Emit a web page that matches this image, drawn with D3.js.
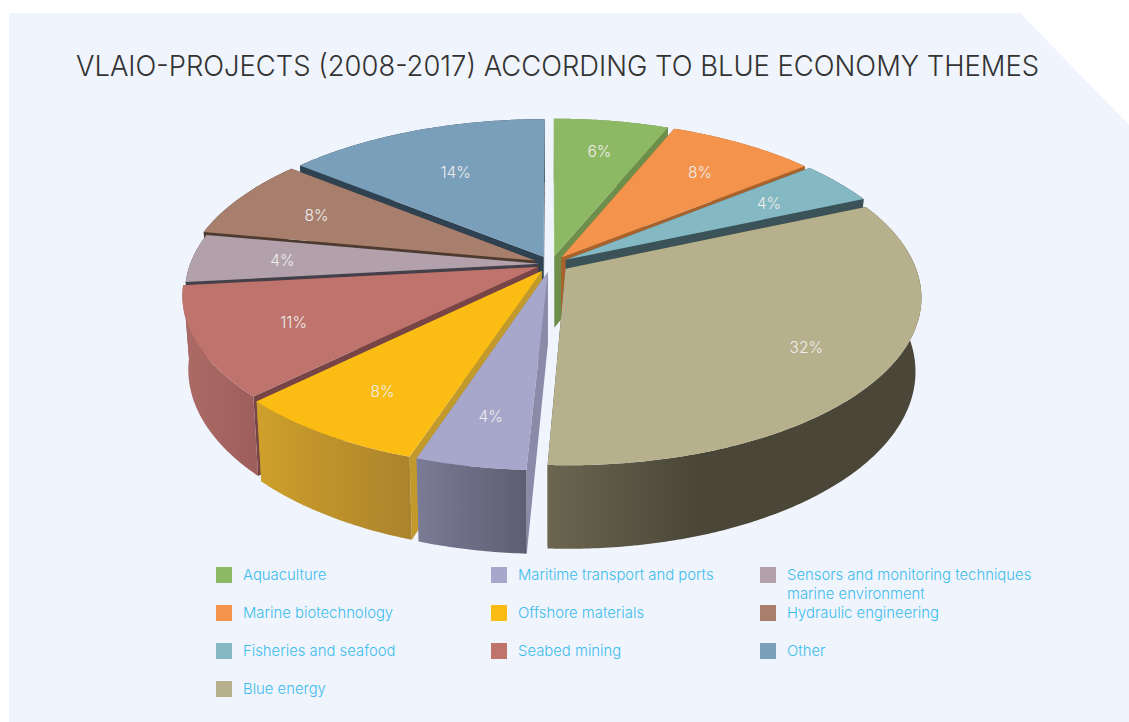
<!DOCTYPE html>
<html>
<head>
<meta charset="utf-8">
<title>VLAIO-projects</title>
<script src="https://cdnjs.cloudflare.com/ajax/libs/d3/7.8.5/d3.min.js"></script>
<style>
  html, body { margin: 0; padding: 0; background: #fff; }
  svg { display: block; }
  text { font-family: Inter, "Liberation Sans", Arial, sans-serif; font-weight: 300; }
</style>
</head>
<body>
<svg id="chart" width="1129" height="722"></svg>
<script>
// chart data
var titleText = 'VLAIO-PROJECTS (2008-2017) ACCORDING TO BLUE ECONOMY THEMES';
var themes = ['Aquaculture', 'Marine biotechnology', 'Fisheries and seafood', 'Blue energy',
    'Maritime transport and ports', 'Offshore materials', 'Seabed mining',
    'Sensors and monitoring techniques marine environment', 'Hydraulic engineering', 'Other'];
var shares = [6.2, 8.0, 4.25, 32.4, 4.28, 7.6, 10.6, 4.7, 7.9, 14.2];
var shareLabels = ['6%', '8%', '4%', '32%', '4%', '8%', '11%', '4%', '8%', '14%'];

// colours, same order as the themes
var topColors = ['#8eb964', '#f4934c', '#84b8c2', '#b6b18c', '#a7a6cb', '#fbbc13', '#bf736d', '#b2a1ab', '#a87f6d', '#7a9fbb'];
var sideColors = ['#6e8f4c', '#a8622b', '#3a5258', '#4a4638', '#8b8aa8', '#c29a2b', '#774546', '#44404a', '#4f3a30', '#2f4251'];
var wallLight = ['#6e8f4c', '#a8622b', '#3a5258', '#6b6650', '#7a7b96', '#cfa02b', '#ad6b66', '#44404a', '#4f3a30', '#2f4251'];
var wallDark = ['#6e8f4c', '#a8622b', '#3a5258', '#4a4638', '#5f5d72', '#ab832c', '#9e5e5c', '#44404a', '#4f3a30', '#2f4251'];

// back to front
var drawOrder = [9, 0, 8, 1, 7, 2, 6, 5, 4, 3];

var svg = d3.select('#chart');

// panel with the cut corner
svg.append('path')
    .attr('d', 'M9,13 L1020,13 L1129,125 L1129,722 L9,722 Z')
    .attr('fill', '#f0f4fc');

svg.append('text')
    .attr('x', 76)
    .attr('y', 76)
    .attr('textLength', 963)
    .attr('lengthAdjust', 'spacingAndGlyphs')
    .attr('font-size', 29)
    .attr('fill', '#333')
    .text(titleText);

// perspective of the tilted disc
var cx = 551, cy = 264;
var spreadX = 349, spreadY = 162.5;
var tilt = 0.165;
var depth = 72;
var shrink = 0.016;
var explode = [0.05, 0.05, 0.05, 0.05, 0.05, 0.05, 0.042, 0.034, 0.05, 0.05];
var labelRadius = [0.76, 0.74, 0.73, 0.77, 0.77, 0.76, 0.73, 0.74, 0.73, 0.65];

function project(x, y, z) {
    var w = 1 - tilt * y;
    var s = 1 - shrink * z;
    return [cx + spreadX * x / w * s, cy + (spreadY * y * s + depth * z) / w];
}

var pie = d3.pie().value(function (d) { return d; }).sort(null);
var arcs = pie(shares);
var line = d3.line();
var defs = svg.append('defs');

function rim(d) {
    var mid = (d.startAngle + d.endAngle) / 2;
    var ox = explode[d.index] * Math.sin(mid);
    var oy = -explode[d.index] * Math.cos(mid);
    var steps = Math.max(2, Math.ceil((d.endAngle - d.startAngle) / 0.01));
    var pts = d3.range(steps + 1).map(function (i) {
        var a = d.startAngle + (d.endAngle - d.startAngle) * i / steps;
        return [ox + Math.sin(a), oy - Math.cos(a)];
    });
    return { center: [ox, oy], pts: pts };
}

function at(p, z) { return project(p[0], p[1], z); }

drawOrder.forEach(function (idx) {
    var d = arcs[idx];
    var r = rim(d);
    var g = svg.append('g').attr('class', 'slice');
    var first = r.pts[0], last = r.pts[r.pts.length - 1];

    // straight walls
    [first, last].forEach(function (p) {
        g.append('path')
            .attr('d', line([at(r.center, 0), at(p, 0), at(p, 1), at(r.center, 1)]) + 'Z')
            .attr('fill', sideColors[idx]);
    });

    // outer wall, shaded left to right
    var xs = r.pts.map(function (p) { return at(p, 0)[0]; });
    var grad = defs.append('linearGradient')
        .attr('id', 'wall' + idx)
        .attr('gradientUnits', 'userSpaceOnUse')
        .attr('x1', d3.min(xs)).attr('x2', d3.max(xs))
        .attr('y1', 0).attr('y2', 0);
    grad.append('stop').attr('offset', 0).attr('stop-color', wallLight[idx]);
    grad.append('stop').attr('offset', idx === 3 ? 0.4 : 1).attr('stop-color', wallDark[idx]);

    var band = r.pts.map(function (p) { return at(p, 0); })
        .concat(r.pts.slice().reverse().map(function (p) { return at(p, 1); }));
    g.append('path')
        .attr('d', line(band) + 'Z')
        .attr('fill', 'url(#wall' + idx + ')');

    // top face
    var top = [at(r.center, 0)].concat(r.pts.map(function (p) { return at(p, 0); }));
    g.append('path')
        .attr('d', line(top) + 'Z')
        .attr('fill', topColors[idx]);
});

// percent labels on the top faces
arcs.forEach(function (d, i) {
    var r = rim(d);
    var mid = (d.startAngle + d.endAngle) / 2;
    var p = project(r.center[0] + labelRadius[i] * Math.sin(mid), r.center[1] - labelRadius[i] * Math.cos(mid), 0);
    svg.append('text')
        .attr('x', p[0])
        .attr('y', p[1] + 7)
        .attr('text-anchor', 'middle')
        .attr('font-size', 15.5)
        .attr('fill', '#eeeeee')
        .text(shareLabels[i]);
});

// legend in three columns
var legendX = d3.scaleOrdinal().domain([0, 1, 2]).range([216, 491, 760]);
var legendY = d3.scalePoint().domain([0, 1, 2, 3]).range([575, 689]);
var legendCol = [0, 0, 0, 0, 1, 1, 1, 2, 2, 2];
var legendRow = [0, 1, 2, 3, 0, 1, 2, 0, 1, 2];

themes.forEach(function (name, i) {
    var x = legendX(legendCol[i]), y = legendY(legendRow[i]);
    svg.append('rect')
        .attr('x', x).attr('y', y - 8)
        .attr('width', 16).attr('height', 16)
        .attr('fill', topColors[i]);
    var lines = name.indexOf('Sensors') === 0
        ? ['Sensors and monitoring techniques', 'marine environment']
        : [name];
    lines.forEach(function (t, j) {
        svg.append('text')
            .attr('x', x + 27)
            .attr('y', y + 5 + j * 19)
            .attr('font-size', 14.85)
            .attr('fill', '#3dbdee')
            .text(t);
    });
});
</script>
</body>
</html>
